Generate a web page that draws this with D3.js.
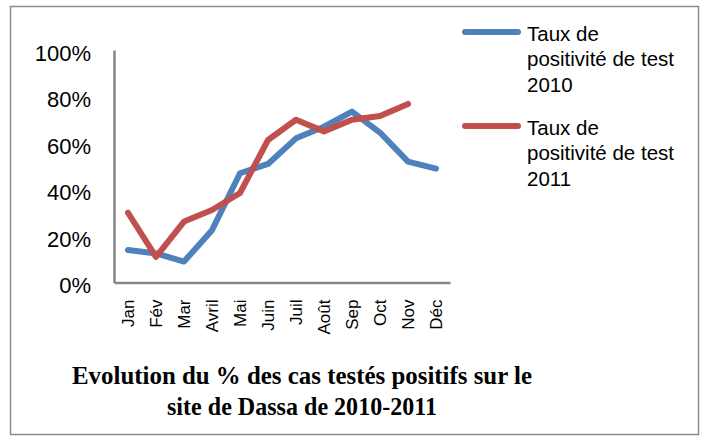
<!DOCTYPE html>
<html>
<head>
<meta charset="utf-8">
<script src="https://cdn.jsdelivr.net/npm/d3@7"></script>
<style>
  body { margin: 0; background: #fff; }
  svg { display: block; }
  .axis path { stroke: #868686; stroke-width: 2.5; }
  .axis text { font-family: "Liberation Sans", Arial, sans-serif; fill: #000; }
</style>
</head>
<body>
<svg id="chart" width="704" height="436"></svg>
<script>
// months along the x axis
var months = ["Jan", "Fév", "Mar", "Avril", "Mai", "Juin", "Juil", "Août", "Sep", "Oct", "Nov", "Déc"];

// positivity rate per month (share of tested cases)
var rate2010 = [0.14, 0.125, 0.09, 0.225, 0.47, 0.51, 0.62, 0.67, 0.735, 0.645, 0.52, 0.49];
var rate2011 = [0.30, 0.11, 0.262, 0.312, 0.385, 0.613, 0.70, 0.65, 0.70, 0.716, 0.768];

var yTicks = [0, 0.2, 0.4, 0.6, 0.8, 1];

var seriesNames = ["Taux de positivité de test 2010", "Taux de positivité de test 2011"];
var colors = ["#4F81BD", "#C0504D"];

var svg = d3.select("#chart");

// outer frame
svg.append("rect")
  .attr("x", 10.5).attr("y", 6.5)
  .attr("width", 688).attr("height", 428)
  .attr("fill", "#fff")
  .attr("stroke", "#8c8c8c")
  .attr("stroke-width", 1.5);

var x = d3.scaleBand().domain(months).range([114, 450]);
var y = d3.scaleLinear().domain([0, 1]).range([282.5, 50]);

// y axis
var yAxis = svg.append("g")
  .attr("class", "axis")
  .attr("transform", "translate(114,0)")
  .call(d3.axisLeft(y).tickValues(yTicks).tickFormat(d3.format(".0%")).tickSize(0).tickSizeOuter(0).tickPadding(23));
yAxis.selectAll("text")
  .style("font-size", "22px")
  .attr("dy", "0.47em");

// x axis
var xAxis = svg.append("g")
  .attr("class", "axis")
  .attr("transform", "translate(0,282.5)")
  .call(d3.axisBottom(x).tickSize(0).tickSizeOuter(0));
xAxis.selectAll("text")
  .style("font-size", "17px")
  .attr("transform", "rotate(-90)")
  .attr("text-anchor", "end")
  .attr("x", -17)
  .attr("y", 0)
  .attr("dy", "0.36em");

// lines
var line = d3.line()
  .x(function (d, i) { return x(months[i]) + x.bandwidth() / 2; })
  .y(function (d) { return y(d); });

[rate2010, rate2011].forEach(function (vals, k) {
  svg.append("path")
    .attr("d", line(vals))
    .attr("fill", "none")
    .attr("stroke", colors[k])
    .attr("stroke-width", 6)
    .attr("stroke-linejoin", "round")
    .attr("stroke-linecap", "round");
});

// legend
var legend = svg.selectAll("g.legend")
  .data(seriesNames)
  .enter().append("g")
  .attr("class", "legend")
  .attr("transform", function (d, i) { return "translate(465," + (32 + i * 94) + ")"; });

legend.append("line")
  .attr("x1", 0).attr("x2", 53)
  .attr("stroke", function (d, i) { return colors[i]; })
  .attr("stroke-width", 6)
  .attr("stroke-linecap", "round");

var legendLines = function (d) {
  var w = d.split(" ");
  return [w.slice(0, 2).join(" "), w.slice(2, 5).join(" "), w[5]];
};

legend.append("text")
  .style("font-family", "'Liberation Sans', Arial, sans-serif")
  .style("font-size", "20.5px")
  .attr("fill", "#000")
  .selectAll("tspan")
  .data(legendLines)
  .enter().append("tspan")
  .attr("x", 62)
  .attr("y", function (d, i) { return 8.5 + i * 25.5; })
  .text(function (d) { return d; });

// title
var titleLines = [
  { text: "Evolution du % des cas testés positifs sur le", width: 460 },
  { text: "site de Dassa de 2010-2011", width: 270 }
];

svg.selectAll("text.title")
  .data(titleLines)
  .enter().append("text")
  .attr("class", "title")
  .attr("x", 302)
  .attr("y", function (d, i) { return 384 + i * 30.5; })
  .attr("text-anchor", "middle")
  .attr("textLength", function (d) { return d.width; })
  .attr("lengthAdjust", "spacingAndGlyphs")
  .style("font-family", "'Liberation Serif', 'Times New Roman', serif")
  .style("font-weight", "bold")
  .style("font-size", "25px")
  .text(function (d) { return d.text; });
</script>
</body>
</html>
